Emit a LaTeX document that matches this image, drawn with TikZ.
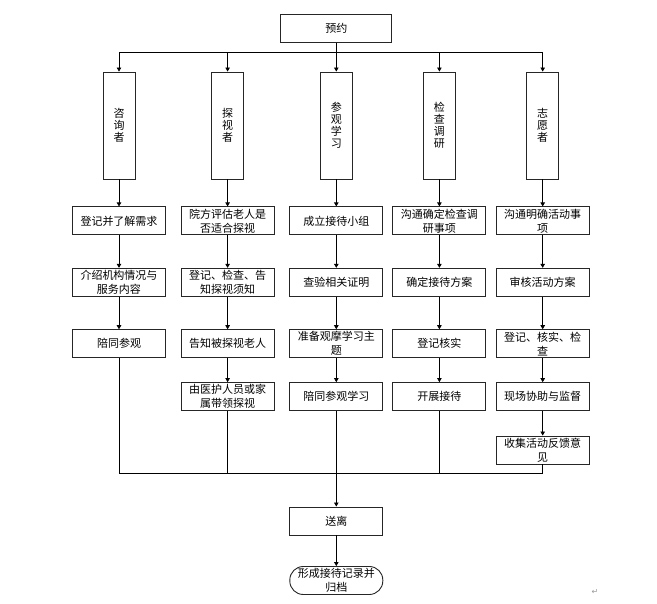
\documentclass[tikz,border=0pt]{standalone}
\usepackage{fontspec}
\newfontfamily\cnfont{Noto Sans CJK SC}
\newfontfamily\symfont{DejaVu Sans}
\usetikzlibrary{arrows.meta,positioning}

\begin{document}
\begin{tikzpicture}[
    x=1pt, y=-1pt,
    font=\cnfont\fontsize{11pt}{14pt}\selectfont,
    % Styles
    task_box/.style={
      rectangle, draw=black!85, line width=0.9pt,
      minimum width=93pt, minimum height=28pt,
      inner sep=0.5pt, align=center
    },
    role_box/.style={
      rectangle, draw=black!85, line width=0.9pt,
      minimum width=32pt, minimum height=107pt,
      inner sep=1pt, align=center,
      font=\cnfont\fontsize{11pt}{12pt}\selectfont
    },
    end_box/.style={
      task_box, rounded corners=13.5pt
    },
    flow_arrow/.style={
      -{Triangle[length=4pt,width=4.5pt]}, line width=0.7pt
    },
    flow_line/.style={
      line width=0.7pt
    }
  ]
  \useasboundingbox (0,0) rectangle (657,604);

  % --- top ---
  \node[task_box, minimum width=111pt] (book) at (336.3,28.5) {预约};
  \coordinate (top_bus) at (336.3,52);

  % --- roles ---
  \node[role_box] (ask) at (119,125.5) {咨\\询\\者};
  \node[role_box] (visit) at (227.6,125.5) {探\\视\\者};
  \node[role_box] (study) at (336.3,125.5) {参\\观\\学\\习};
  \node[role_box] (insp) at (439.4,125.5) {检\\查\\调\\研};
  \node[role_box] (vol) at (542.7,125.5) {志\\愿\\者};

  % Row 1
  \node[task_box, below=27pt of ask] (ask_reg) {登记并了解需求};
  \node[task_box, below=27pt of visit] (visit_eval) {院方评估老人是\\否适合探视};
  \node[task_box, below=27pt of study] (study_team) {成立接待小组};
  \node[task_box, below=27pt of insp] (insp_comm) {沟通确定检查调\\研事项};
  \node[task_box, below=27pt of vol] (vol_comm) {沟通明确活动事\\项};

  % Row 2
  \node[task_box, below=32.5pt of ask_reg] (ask_intro) {介绍机构情况与\\服务内容};
  \node[task_box, below=32.5pt of visit_eval] (visit_notice) {登记、检查、告\\知探视须知};
  \node[task_box, below=32.5pt of study_team] (study_check) {查验相关证明};
  \node[task_box, below=32.5pt of insp_comm] (insp_plan) {确定接待方案};
  \node[task_box, below=32.5pt of vol_comm] (vol_review) {审核活动方案};

  % Row 3
  \node[task_box, below=32.5pt of ask_intro] (ask_acc) {陪同参观};
  \node[task_box, below=32.5pt of visit_notice] (visit_tell) {告知被探视老人};
  \node[task_box, below=32.5pt of study_check] (study_topic) {准备观摩学习主\\题};
  \node[task_box, below=32.5pt of insp_plan] (insp_reg) {登记核实};
  \node[task_box, below=32.5pt of vol_review] (vol_reg) {登记、核实、检\\查};

  % Row 4
  \node[task_box, below=24pt of visit_tell] (visit_lead) {由医护人员或家\\属带领探视};
  \node[task_box, below=24pt of study_topic] (study_acc) {陪同参观学习};
  \node[task_box, below=24pt of insp_reg] (insp_do) {开展接待};
  \node[task_box, below=24pt of vol_reg] (vol_assist) {现场协助与监督};

  % Row 5
  \node[task_box, below=24.5pt of vol_assist] (vol_collect) {收集活动反馈意\\见};

  % --- bottom ---
  \coordinate (bottom_bus) at (336.3,473.5);
  \node[task_box] (leave) at (336.3,521) {送离};
  \node[end_box] (archive) at (336.3,580.5) {形成接待记录并\\归档};

  \node[font=\symfont\fontsize{8pt}{8pt}\selectfont, text=black!40] (para_mark) at (595,592) {↵};

  % --- connectors ---
  \draw[flow_line] (book) -- (top_bus);
  \draw[flow_arrow] (top_bus) -| (ask);
  \draw[flow_arrow] (top_bus) -| (visit);
  \draw[flow_arrow] (top_bus) -- (study);
  \draw[flow_arrow] (top_bus) -| (insp);
  \draw[flow_arrow] (top_bus) -| (vol);

  \draw[flow_arrow] (ask) -- (ask_reg);
  \draw[flow_arrow] (ask_reg) -- (ask_intro);
  \draw[flow_arrow] (ask_intro) -- (ask_acc);

  \draw[flow_arrow] (visit) -- (visit_eval);
  \draw[flow_arrow] (visit_eval) -- (visit_notice);
  \draw[flow_arrow] (visit_notice) -- (visit_tell);
  \draw[flow_arrow] (visit_tell) -- (visit_lead);

  \draw[flow_arrow] (study) -- (study_team);
  \draw[flow_arrow] (study_team) -- (study_check);
  \draw[flow_arrow] (study_check) -- (study_topic);
  \draw[flow_arrow] (study_topic) -- (study_acc);

  \draw[flow_arrow] (insp) -- (insp_comm);
  \draw[flow_arrow] (insp_comm) -- (insp_plan);
  \draw[flow_arrow] (insp_plan) -- (insp_reg);
  \draw[flow_arrow] (insp_reg) -- (insp_do);

  \draw[flow_arrow] (vol) -- (vol_comm);
  \draw[flow_arrow] (vol_comm) -- (vol_review);
  \draw[flow_arrow] (vol_review) -- (vol_reg);
  \draw[flow_arrow] (vol_reg) -- (vol_assist);
  \draw[flow_arrow] (vol_assist) -- (vol_collect);

  % merge
  \draw[flow_line] (ask_acc) |- (bottom_bus);
  \draw[flow_line] (vol_collect) |- (bottom_bus);
  \draw[flow_line] (visit_lead) -- (visit_lead |- bottom_bus);
  \draw[flow_line] (insp_do) -- (insp_do |- bottom_bus);
  \draw[flow_line] (study_acc) -- (bottom_bus);
  \draw[flow_arrow] (bottom_bus) -- (leave);
  \draw[flow_arrow] (leave) -- (archive);

\end{tikzpicture}
\end{document}
